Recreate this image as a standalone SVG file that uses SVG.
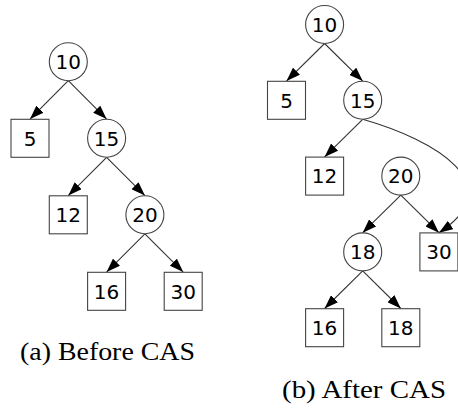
<svg xmlns="http://www.w3.org/2000/svg" width="458" height="408" viewBox="0 0 458 408">
  <style>
    .node circle, .node rect { fill: #ffffff; stroke: #444444; stroke-width: 1.1; }
    .node text { font-family: "DejaVu Sans", "Noto Sans", sans-serif; font-size: 20px; fill: #000000; text-anchor: middle; }
    .edges path { fill: none; stroke: #333333; stroke-width: 1.1; marker-end: url(#arrow); }
    .caption { font-family: "Liberation Serif", "Times New Roman", serif; font-size: 25px; fill: #000000; }
  </style>
  <defs>
    <marker id="arrow" markerUnits="userSpaceOnUse" markerWidth="14" markerHeight="10" refX="14" refY="5" orient="auto">
      <path d="M0,0 L14,5 L0,10 z" fill="#000000"/>
    </marker>
  </defs>

  <rect width="458" height="408" fill="#ffffff"/>

  <!-- (a) tree before the compare-and-swap -->
  <g class="edges" id="edges-a">
    <path d="M68.3,80.7 L30,119.1"/>
    <path d="M68.3,80.7 L106.6,119.1"/>
    <path d="M106.6,157.3 L68.3,195.6"/>
    <path d="M106.6,157.3 L144.9,195.6"/>
    <path d="M144.9,233.8 L106.6,272.1"/>
    <path d="M144.9,233.8 L183.2,272.1"/>
  </g>
  <g class="node" id="a-n10"><circle cx="68.3" cy="61.7" r="19"/><text x="68.3" y="69">10</text></g>
  <g class="node" id="a-l5"><rect x="11" y="119.3" width="38" height="38"/><text x="30" y="145.6">5</text></g>
  <g class="node" id="a-n15"><circle cx="106.6" cy="138.3" r="19"/><text x="106.6" y="145.6">15</text></g>
  <g class="node" id="a-l12"><rect x="49.3" y="195.8" width="38" height="38"/><text x="68.3" y="222.1">12</text></g>
  <g class="node" id="a-n20"><circle cx="144.9" cy="214.8" r="19"/><text x="144.9" y="222.1">20</text></g>
  <g class="node" id="a-l16"><rect x="87.6" y="272.3" width="38" height="38"/><text x="106.6" y="298.6">16</text></g>
  <g class="node" id="a-l30"><rect x="164.2" y="272.3" width="38" height="38"/><text x="183.2" y="298.6">30</text></g>
  <text class="caption" x="20" y="360" textLength="175" lengthAdjust="spacingAndGlyphs">(a) Before CAS</text>

  <!-- (b) tree after the compare-and-swap -->
  <g class="edges" id="edges-b">
    <path d="M324.6,43.5 L286.5,81.1"/>
    <path d="M324.6,43.5 L362.7,81.1"/>
    <path d="M362.7,119.3 L324.6,156.9"/>
    <path d="M362.7,119.3 C435,140 512,185 438.9,232.7"/>
    <path d="M400.8,195.1 L362.7,232.7"/>
    <path d="M400.8,195.1 L438.9,232.7"/>
    <path d="M362.7,270.9 L324.6,308.5"/>
    <path d="M362.7,270.9 L400.8,308.5"/>
  </g>
  <g class="node" id="b-n10"><circle cx="324.6" cy="24.5" r="19"/><text x="324.6" y="31.8">10</text></g>
  <g class="node" id="b-l5"><rect x="267.5" y="81.3" width="38" height="38"/><text x="286.5" y="107.6">5</text></g>
  <g class="node" id="b-n15"><circle cx="362.7" cy="100.3" r="19"/><text x="362.7" y="107.6">15</text></g>
  <g class="node" id="b-l12"><rect x="305.6" y="157.1" width="38" height="38"/><text x="324.6" y="183.4">12</text></g>
  <g class="node" id="b-n20"><circle cx="400.8" cy="176.1" r="19"/><text x="400.8" y="183.4">20</text></g>
  <g class="node" id="b-n18"><circle cx="362.7" cy="251.9" r="19"/><text x="362.7" y="259.2">18</text></g>
  <g class="node" id="b-l30"><rect x="419.9" y="232.9" width="38" height="38"/><text x="438.9" y="259.2">30</text></g>
  <g class="node" id="b-l16"><rect x="305.6" y="308.7" width="38" height="38"/><text x="324.6" y="335">16</text></g>
  <g class="node" id="b-l18"><rect x="381.8" y="308.7" width="38" height="38"/><text x="400.8" y="335">18</text></g>
  <text class="caption" x="282" y="398" textLength="164" lengthAdjust="spacingAndGlyphs">(b) After CAS</text>
</svg>
